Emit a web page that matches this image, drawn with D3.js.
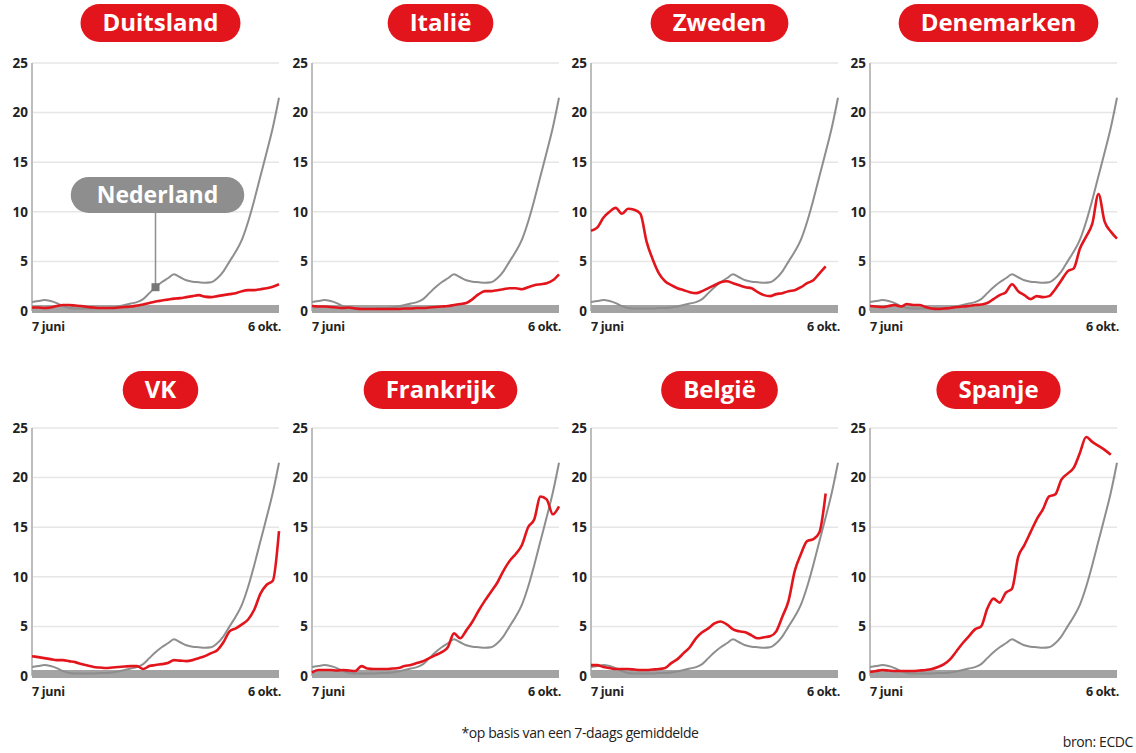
<!DOCTYPE html>
<html>
<head>
<meta charset="utf-8">
<script src="https://cdn.jsdelivr.net/npm/d3@7"></script>
<style>
  body { margin: 0; background: #fff; }
  text { font-family: "Open Sans", sans-serif; }
</style>
</head>
<body>
<div id="chart"></div>
<script>
// besmettingen per 100.000 inwoners, 7 juni - 6 okt., punt om de ~3 dagen
var nederland = [0.9,1.0,1.1,1.0,0.8,0.5,0.3,0.25,0.25,0.25,0.25,0.3,0.3,0.35,0.45,0.6,0.75,0.9,1.2,1.8,2.4,2.9,3.3,3.7,3.4,3.1,2.95,2.9,2.85,2.9,3.3,4.0,5.0,6.0,7.2,9.0,11.2,13.6,16.0,18.5,21.5];
var duitsland = [0.35,0.35,0.3,0.35,0.5,0.6,0.6,0.55,0.5,0.4,0.35,0.3,0.3,0.3,0.35,0.4,0.45,0.55,0.65,0.8,0.95,1.05,1.15,1.25,1.3,1.4,1.5,1.6,1.45,1.4,1.5,1.6,1.7,1.8,2.0,2.1,2.1,2.2,2.3,2.45,2.7];
var italie = [0.5,0.45,0.45,0.4,0.35,0.3,0.35,0.25,0.2,0.2,0.2,0.2,0.2,0.2,0.2,0.25,0.25,0.3,0.3,0.35,0.4,0.45,0.5,0.6,0.7,0.8,1.2,1.7,2.0,2.0,2.1,2.2,2.3,2.3,2.2,2.4,2.6,2.7,2.8,3.1,3.7];
var zweden = [8.1,8.4,9.4,10.0,10.4,9.8,10.3,10.2,9.8,7.0,5.2,3.8,3.0,2.6,2.3,2.1,1.9,1.8,2.0,2.3,2.6,2.9,3.0,2.8,2.6,2.4,2.3,1.9,1.6,1.5,1.7,1.8,2.0,2.1,2.4,2.8,3.1,3.8,4.5];
var denemarken = [0.5,0.45,0.4,0.5,0.6,0.45,0.7,0.6,0.6,0.4,0.25,0.2,0.25,0.3,0.4,0.45,0.5,0.6,0.65,0.8,1.2,1.6,1.9,2.7,2.0,1.6,1.2,1.5,1.4,1.5,2.2,3.1,4.0,4.3,6.3,7.5,8.8,11.8,9.0,8.0,7.3];
var vk = [2.0,1.9,1.8,1.7,1.6,1.6,1.5,1.4,1.2,1.05,0.9,0.85,0.8,0.85,0.9,0.95,1.0,1.0,0.7,1.0,1.1,1.2,1.3,1.6,1.55,1.5,1.6,1.8,2.0,2.3,2.6,3.4,4.5,4.8,5.2,5.7,6.7,8.3,9.2,9.6,14.6];
var frankrijk = [0.35,0.6,0.6,0.6,0.55,0.6,0.55,0.5,1.0,0.75,0.7,0.7,0.7,0.75,0.8,1.0,1.1,1.3,1.5,1.8,2.1,2.4,2.9,4.3,3.8,4.6,5.5,6.6,7.6,8.5,9.4,10.6,11.6,12.3,13.2,15.0,15.8,18.1,17.8,16.3,17.1];
var belgie = [1.1,1.1,0.9,0.8,0.7,0.7,0.7,0.65,0.6,0.6,0.65,0.7,0.8,1.3,1.7,2.3,2.9,3.8,4.4,4.8,5.3,5.5,5.2,4.7,4.5,4.4,4.1,3.8,3.9,4.0,4.5,6.0,7.6,10.6,12.3,13.6,13.8,14.5,18.4];
var spanje = [0.4,0.5,0.6,0.55,0.5,0.5,0.5,0.5,0.55,0.6,0.7,0.9,1.2,1.7,2.5,3.3,4.0,4.7,5.0,6.8,7.8,7.4,8.4,8.8,12.0,13.2,14.5,15.8,16.8,18.1,18.3,19.8,20.4,21.0,22.5,24.1,23.6,23.2,22.8,22.3];

var landen = ["Duitsland", "Italië", "Zweden", "Denemarken", "VK", "Frankrijk", "België", "Spanje"];
var reeksen = [duitsland, italie, zweden, denemarken, vk, frankrijk, belgie, spanje];
var yTicks = [0, 5, 10, 15, 20, 25];
var totalDays = 121, step = 121 / 40;

var width = 1136, height = 753;
var colX = [32, 312, 591, 870], rowY = [63, 428];
var pw = 247, ph = 248;
var red = "#e3151c", grey = "#8e8e8e";

var svg = d3.select("#chart").append("svg")
    .attr("width", width)
    .attr("height", height);

var x = d3.scaleLinear().domain([0, totalDays]).range([0, pw]);
var y = d3.scaleLinear().domain([0, 25]).range([ph, 0]);

var line = d3.line()
    .x(function (d, i) { return x(i * step); })
    .y(function (d) { return y(d); })
    .curve(d3.curveMonotoneX);

landen.forEach(function (land, k) {
    var g = svg.append("g")
        .attr("transform", "translate(" + colX[k % 4] + "," + rowY[Math.floor(k / 4)] + ")");

    // gridlines
    g.selectAll(".grid")
        .data(yTicks.slice(1))
        .enter().append("line")
        .attr("x1", 0).attr("x2", pw)
        .attr("y1", function (d) { return y(d); })
        .attr("y2", function (d) { return y(d); })
        .attr("stroke", "#e6e6e6")
        .attr("stroke-width", 1.5);

    g.selectAll(".tick")
        .data(yTicks)
        .enter().append("text")
        .attr("x", -4)
        .attr("y", function (d) { return y(d); })
        .attr("dy", "0.35em")
        .attr("text-anchor", "end")
        .attr("font-size", 13.5)
        .attr("font-weight", 700)
        .attr("fill", "#222")
        .text(function (d) { return d; });

    // y axis
    g.append("line")
        .attr("x1", 0).attr("x2", 0)
        .attr("y1", y(25)).attr("y2", y(0))
        .attr("stroke", "#bdbdbd")
        .attr("stroke-width", 2);

    // dikke grijze basislijn
    g.append("rect")
        .attr("x", 0).attr("y", y(0) - 6)
        .attr("width", pw).attr("height", 8)
        .attr("fill", "#a3a3a3");

    g.append("path")
        .datum(nederland)
        .attr("d", line)
        .attr("fill", "none")
        .attr("stroke", grey)
        .attr("stroke-width", 2);

    g.append("path")
        .datum(reeksen[k])
        .attr("d", line)
        .attr("fill", "none")
        .attr("stroke", red)
        .attr("stroke-width", 2.6)
        .attr("stroke-linejoin", "round");

    g.append("text")
        .attr("x", 0).attr("y", ph + 20)
        .attr("font-size", 12.5).attr("font-weight", 700).attr("fill", "#222")
        .attr("letter-spacing", -0.3)
        .text("7 juni");
    g.append("text")
        .attr("x", pw + 2).attr("y", ph + 20)
        .attr("text-anchor", "end")
        .attr("font-size", 12.5).attr("font-weight", 700).attr("fill", "#222")
        .attr("letter-spacing", -0.3)
        .text("6 okt.");

    // titel in rode pil
    var title = g.append("g")
        .attr("transform", "translate(" + (pw / 2 + 5) + "," + (k < 4 ? -40 : -38) + ")");
    var t = title.append("text")
        .attr("text-anchor", "middle")
        .attr("dy", "0.35em")
        .attr("font-size", 24)
        .attr("font-weight", 700)
        .attr("fill", "#fff")
        .text(land);
    var tw = t.node().getComputedTextLength() + 44;
    title.insert("rect", "text")
        .attr("x", -tw / 2).attr("y", -19)
        .attr("width", tw).attr("height", 38)
        .attr("rx", 19)
        .attr("fill", red);

    if (k === 0) {
        var di = 20;
        var px = x(di * step), py = y(nederland[di]);
        var cy = y(12) + 3;
        var lab = g.append("g").attr("transform", "translate(" + (pw / 2 + 2) + "," + cy + ")");
        var lt = lab.append("text")
            .attr("text-anchor", "middle")
            .attr("dy", "0.35em")
            .attr("font-size", 23)
            .attr("font-weight", 700)
            .attr("fill", "#fff")
            .text("Nederland");
        var lw = lt.node().getComputedTextLength() + 52;
        lab.insert("rect", "text")
            .attr("x", -lw / 2).attr("y", -18)
            .attr("width", lw).attr("height", 36)
            .attr("rx", 18)
            .attr("fill", grey);
        g.append("line")
            .attr("x1", px).attr("x2", px)
            .attr("y1", cy + 18).attr("y2", py)
            .attr("stroke", grey).attr("stroke-width", 1.5);
        g.append("rect")
            .attr("x", px - 4).attr("y", py - 4)
            .attr("width", 8).attr("height", 8)
            .attr("fill", "#777");
    }
});

svg.append("text")
    .attr("x", 580).attr("y", 738)
    .attr("text-anchor", "middle")
    .attr("font-size", 14).attr("fill", "#222")
    .attr("letter-spacing", -0.4)
    .text("*op basis van een 7-daags gemiddelde");

svg.append("text")
    .attr("x", 1133).attr("y", 747)
    .attr("text-anchor", "end")
    .attr("font-size", 14).attr("fill", "#222")
    .attr("letter-spacing", -0.4)
    .text("bron: ECDC");
</script>
</body>
</html>
